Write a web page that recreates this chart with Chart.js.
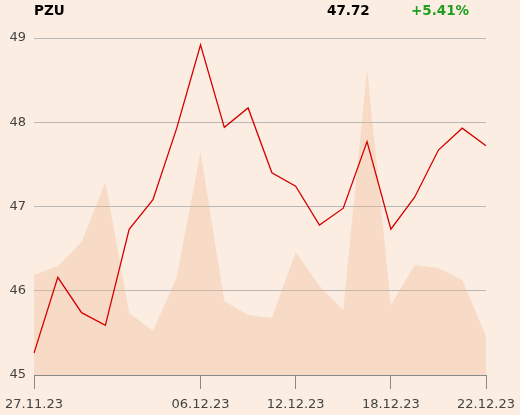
<!DOCTYPE html>
<html lang="pl">
<head>
<meta charset="UTF-8">
<title>PZU</title>
<script src="https://cdn.jsdelivr.net/npm/chart.js"></script>
<style>
	body {padding: 0; margin: 0; background: #fbede1;}
	#wrap {position: relative; width: 520px; height: 415px;}
	.hdr {position: absolute; top: 2px; font: bold 13.5px "DejaVu Sans", sans-serif; color: #000;}
	#name {left: 34px;}
	#price {left: 327px;}
	#change {left: 411px; color: #1f9e1f;}
</style>
</head>
<body>

<div id="wrap">
	<canvas id="myChart" width="520" height="415"></canvas>
	<span class="hdr" id="name">PZU</span>
	<span class="hdr" id="price">47.72</span>
	<span class="hdr" id="change">+5.41%</span>
</div>

<script>
var dates = ['27.11.23','28.11.23','29.11.23','30.11.23','01.12.23','04.12.23','05.12.23','06.12.23',
	'07.12.23','08.12.23','11.12.23','12.12.23','13.12.23','14.12.23','15.12.23','18.12.23',
	'19.12.23','20.12.23','21.12.23','22.12.23'];
var shownDates = ['27.11.23','06.12.23','12.12.23','18.12.23','22.12.23'];
var closePrices = [45.26, 46.16, 45.74, 45.59, 46.73, 47.08, 47.93, 48.92, 47.94, 48.17,
	47.40, 47.24, 46.78, 46.98, 47.77, 46.73, 47.11, 47.67, 47.93, 47.72];
// volume (relative units)
var volumes = [100, 109, 133, 193, 62, 44, 98, 223, 74, 60,
	57, 123, 89, 65, 306, 70, 110, 107, 95, 39];
var priceTicks = [45, 46, 47, 48, 49];

var font = {family: '"DejaVu Sans", sans-serif', size: 13};

var myChart = new Chart(document.getElementById('myChart').getContext('2d'), {
	type: 'line',
	data: {
		labels: dates,
		datasets: [{
			label: 'Kurs',
			data: closePrices,
			yAxisID: 'y',
			borderColor: '#d40000',
			borderWidth: 1.3,
			pointRadius: 0,
			tension: 0,
			fill: false,
			order: 1
		}, {
			label: 'Wolumen',
			data: volumes,
			yAxisID: 'vol',
			borderWidth: 0,
			backgroundColor: 'rgba(238,180,135,0.3)',
			pointRadius: 0,
			tension: 0,
			fill: 'origin',
			order: 2
		}]
	},
	options: {
		responsive: false,
		animation: false,
		layout: {padding: {top: 38, right: 34, left: 0, bottom: 0}},
		plugins: {legend: {display: false}, tooltip: {enabled: false}},
		scales: {
			x: {
				offset: false,
				border: {display: true, color: '#888'},
				grid: {drawOnChartArea: false, drawTicks: true, tickLength: 14, color: '#888'},
				ticks: {
					autoSkip: false, maxRotation: 0, color: '#444', font: font, padding: 8,
					callback: function(v, i) {
						var l = dates[i];
						return shownDates.indexOf(l) >= 0 ? l : null;
					}
				},
				afterFit: function(axis) {
					axis.height = 40;
					axis.paddingLeft = 0;
					axis.paddingRight = 0;
				}
			},
			y: {
				min: 45, max: 49,
				afterBuildTicks: function(axis) { axis.ticks = priceTicks.map(function(v) { return {value: v}; }); },
				border: {display: false},
				grid: {color: '#b8b8b8', drawTicks: false},
				ticks: {color: '#444', font: font, padding: 8},
				afterFit: function(axis) {
					axis.width = 34;
					axis.paddingTop = 0;
					axis.paddingBottom = 0;
				}
			},
			vol: {
				display: false,
				min: 0, max: 337
			}
		}
	}
});
</script>

</body>
</html>
